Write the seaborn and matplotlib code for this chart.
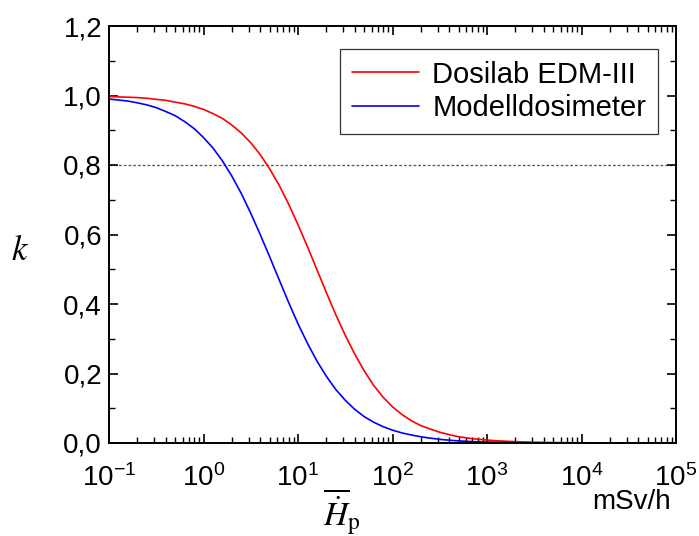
import numpy as np
import pandas as pd
import matplotlib
matplotlib.use("Agg")
import matplotlib.pyplot as plt
import matplotlib.ticker as mticker
import seaborn as sns

# ---- data, x given as log10 of dose rate in mSv/h ----
log_x = [-1.0, -0.9, -0.8, -0.7, -0.6, -0.5, -0.4, -0.3, -0.2, -0.1,
         0.0, 0.1, 0.2, 0.3, 0.4, 0.5, 0.6, 0.7, 0.8, 0.9,
         1.0, 1.1, 1.2, 1.3, 1.4, 1.5, 1.6, 1.7, 1.8, 1.9,
         2.0, 2.1, 2.2, 2.3, 2.4, 2.5, 2.6, 2.7, 2.8, 2.9,
         3.0, 3.1, 3.2, 3.3, 3.4, 3.5, 3.6, 3.7, 3.8, 3.9,
         4.0, 4.1, 4.2, 4.3, 4.4, 4.5, 4.6, 4.7, 4.8, 4.9, 5.0]
k_dosilab = [0.997, 0.996, 0.995, 0.994, 0.992, 0.989, 0.986, 0.981, 0.976, 0.969,
             0.960, 0.948, 0.934, 0.915, 0.892, 0.864, 0.830, 0.789, 0.742, 0.688,
             0.628, 0.565, 0.499, 0.433, 0.369, 0.310, 0.256, 0.208, 0.166, 0.132,
             0.104, 0.082, 0.064, 0.050, 0.040, 0.031, 0.024, 0.018, 0.014, 0.011,
             0.0084, 0.0065, 0.0050, 0.0038, 0.0029, 0.0022, 0.0017, 0.0013, 0.0010, 0.0008,
             0.0006, 0.0005, 0.0004, 0.0003, 0.0002, 0.0002, 0.0001, 0.0001, 0.0001, 0.0001,
             0.0000]
k_modell = [0.990, 0.987, 0.984, 0.979, 0.973, 0.965, 0.954, 0.942, 0.925, 0.905,
            0.879, 0.849, 0.812, 0.768, 0.718, 0.661, 0.600, 0.536, 0.470, 0.405,
            0.343, 0.287, 0.236, 0.192, 0.154, 0.123, 0.097, 0.076, 0.060, 0.047,
            0.037, 0.029, 0.023, 0.018, 0.014, 0.0105, 0.0080, 0.0061, 0.0046, 0.0035,
            0.0027, 0.0021, 0.0016, 0.0012, 0.0009, 0.0007, 0.0006, 0.0004, 0.0003, 0.0003,
            0.0002, 0.0002, 0.0001, 0.0001, 0.0001, 0.0001, 0.0000, 0.0000, 0.0000, 0.0000,
            0.0000]
series_names = ["Dosilab EDM-III", "Modelldosimeter"]
series_colors = ["#FF0000", "#0000FF"]
threshold = 0.8
y_ticks = [0.0, 0.2, 0.4, 0.6, 0.8, 1.0, 1.2]
y_tick_labels = ["0,0", "0,2", "0,4", "0,6", "0,8", "1,0", "1,2"]
x_ticks_exp = [-1, 0, 1, 2, 3, 4, 5]

x_vals = [10.0 ** v for v in log_x]
df = pd.DataFrame({
    "H": x_vals * 2,
    "k": k_dosilab + k_modell,
    "Serie": [series_names[0]] * len(x_vals) + [series_names[1]] * len(x_vals),
})

sns.set_theme(style="ticks")
plt.rcParams["font.family"] = ["Liberation Sans", "DejaVu Sans"]
plt.rcParams["mathtext.fontset"] = "stix"
plt.rcParams["axes.unicode_minus"] = False
plt.rcParams["text.color"] = "black"

fig = plt.figure(figsize=(6.99, 5.36), dpi=100)
ax = fig.add_axes([109 / 699, 1 - 443 / 536, (676 - 109) / 699, (443 - 26) / 536])

sns.lineplot(data=df, x="H", y="k", hue="Serie", palette=dict(zip(series_names, series_colors)),
             linewidth=1.2, ax=ax, legend=True, estimator=None, sort=False)
ax.axhline(threshold, color="#555555", linestyle=(0, (2.2, 1.6)), linewidth=0.9, zorder=0)

ax.set_xscale("log")
ax.set_xlim(0.1, 1e5)
ax.set_ylim(0, 1.2)

ax.xaxis.set_major_locator(mticker.FixedLocator([10.0 ** e for e in x_ticks_exp]))
ax.xaxis.set_minor_locator(mticker.LogLocator(base=10, subs=np.arange(2, 10), numticks=50))
ax.set_xticklabels([r"$\mathregular{10^{%d}}$" % e for e in x_ticks_exp])
ax.xaxis.set_minor_formatter(mticker.NullFormatter())
ax.set_yticks(y_ticks)
ax.set_yticklabels(y_tick_labels)
ax.yaxis.set_minor_locator(mticker.MultipleLocator(0.1))

ax.tick_params(which="both", direction="in", top=True, right=True, color="black",
               labelsize=20, labelcolor="black")
ax.tick_params(which="major", length=6.5, width=1.2)
ax.tick_params(which="minor", length=4, width=1.0)
ax.tick_params(axis="y", pad=5)
ax.tick_params(axis="x", pad=15)
for s in ax.spines.values():
    s.set_linewidth(1.4)
    s.set_color("black")

ax.set_xlabel("")
ax.set_ylabel("")
fig.text(20 / 699, 1 - 250 / 536, r"$k$", fontsize=25, ha="center", va="center")
fig.text(342 / 699, 1 - 512 / 536, r"$\overline{\dot{H}}_{\mathrm{p}}$", fontsize=24,
         ha="center", va="center")
fig.text(632 / 699, 1 - 502 / 536, "mSv/h", fontsize=20, ha="center", va="center")

handles, labels = ax.get_legend_handles_labels()
leg = ax.legend(handles, labels, loc="upper right",
                bbox_to_anchor=((658 - 109) / 567, (443 - 49) / 417),
                borderaxespad=0, frameon=True, fancybox=False, shadow=False,
                fontsize=21, handlelength=2.3, handletextpad=0.45, labelspacing=0.2,
                borderpad=0.4)
leg.get_frame().set_edgecolor("black")
leg.get_frame().set_linewidth(0.9)
for t in leg.get_texts():
    t.set_color("black")
for line in leg.get_lines():
    line.set_linewidth(1.2)

fig.savefig("out.png", dpi=100)
